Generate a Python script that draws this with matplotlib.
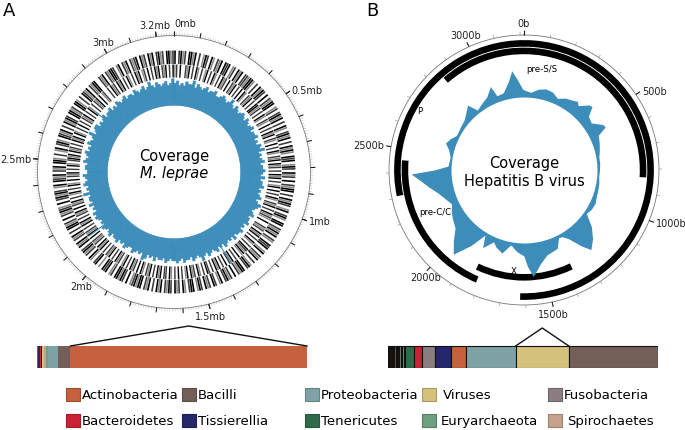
import numpy as np
import matplotlib
matplotlib.use("Agg")
import matplotlib.pyplot as plt
from matplotlib.patches import Rectangle

W, H = 685, 431

# ---------------- data ----------------
# A: M. leprae (genome ~3.268 Mb)
leprae_len = 3.268
# coverage level per 1.5 degree bin, 0-9
leprae_cov = ("78676877968767867786" "67876797687678768767" "86778676879676786778"
              "76867786767867987678" "67786768776867678676" "87678679767867786787"
              "76786776867689676786" "67867687768767867678" "78676867769676876786"
              "67768767867687679678" "86767867786768767867" "76876786797687678679")
leprae_spike_pos = [1.343, 2.115, 2.79]
leprae_spike_level = [16, 15, 11]
# gene tracks, 1 degree bins: 0 none, 1 light, 2 grey, 3 black
genes_plus = ("30231203313020132031" "02130323012031302213" "31020313203021330120"
              "23130203102313020313" "10323013203120302133" "02031320130231033021"
              "31302103230130213020" "13203312030213203102" "30213023103320130213"
              "02312031302031203313" "21030231330210323010" "32013021320313021302"
              "03312030213210302313" "20130321302130331020" "13023103213020313203"
              "31203310203213021330" "02130213320130213021" "23031203130231203312")
genes_minus = ("12030021302031020130" "20310203120302130203" "03102130203312020310"
               "21030203130210302031" "02130312020313020130" "30203102130203121030"
               "02120313020310203213" "10302031203020313020" "23020130213031020302"
               "01302203130203120130" "30213020310213020312" "02031302120303120203"
               "13020213030213020130" "20310302130203102313" "03120203130310203020"
               "21302031020213030120" "02031203130203102031" "30120302031302130203")
leprae_labels = [0, 0.5, 1, 1.5, 2, 2.5, 3, 3.2]

# B: Hepatitis B virus (3215 b)
hbv_len = 3215
hbv_pos = [0, 45, 89, 134, 179, 223, 268, 313, 339, 357, 402, 420, 447, 491, 536, 554,
           580, 625, 670, 714, 759, 804, 848, 893, 938, 982, 1027, 1072, 1116, 1161, 1206,
           1250, 1277, 1313, 1340, 1366, 1402, 1429, 1473, 1518, 1563, 1590, 1608, 1652,
           1697, 1741, 1786, 1813, 1858, 1884, 1920, 1965, 2009, 2054, 2099, 2143, 2188,
           2233, 2277, 2322, 2367, 2393, 2411, 2438, 2500, 2545, 2581, 2617, 2652, 2679,
           2724, 2768, 2813, 2849, 2876, 2929, 2974, 3019, 3036, 3081, 3126, 3152, 3179, 3206]
hbv_cov = [7, 5, 9, 11, 10, 6, 10, 12, 14, 11, 19, 20, 11, 9, 18, 19,
           9, 7, 5, 3, 3, 2.5, 2, 3, 3.5, 4, 5.5, 5, 3, 15, 24,
           31, 22, 9, 4, 3, 12, 13, 15, 22, 34, 23, 13, 9,
           3, 13, 9, 5, 15, 3, 19, 37, 27, 17, 14, 11, 7,
           11, 16, 24, 33, 40, 17, 3, 2, 5, 10, 7, 3, 3,
           4, 5, 9, 13, 3, 6, 9, 17, 6, 7, 17, 27, 17, 8]
hbv_genes = ["P", "pre-S/S", "pre-C/C", "X"]
hbv_gene_start = [2307, 2848, 1814, 1374]
hbv_gene_end = [1623, 835, 2452, 1838]
hbv_gene_track = [2, 1, 1, 0]
hbv_labels = [0, 500, 1000, 1500, 2000, 2500, 3000]

# legend / phyla
phyla = ["Actinobacteria", "Bacilli", "Proteobacteria", "Viruses", "Fusobacteria",
         "Bacteroidetes", "Tissierellia", "Tenericutes", "Euryarchaeota", "Spirochaetes"]
phylum_colors = {"Actinobacteria": "#c5613c", "Bacilli": "#735f58", "Proteobacteria": "#7fa2a6",
                 "Viruses": "#d3c17c", "Fusobacteria": "#8a7f80", "Bacteroidetes": "#cc2236",
                 "Tissierellia": "#25276c", "Tenericutes": "#2f6b4b", "Euryarchaeota": "#6fa07f",
                 "Spirochaetes": "#c4a28c", "Other": "#17120f"}

bar_a_taxa = ["Bacilli", "Tissierellia", "Bacteroidetes", "Other", "Viruses", "Spirochaetes",
              "Euryarchaeota", "Proteobacteria", "Bacilli", "Actinobacteria"]
bar_a_share = [1.2, 1.5, 1.3, 1.2, 1.7, 1.6, 2.0, 10.0, 12.7, 235.3]
bar_a_focus = 9

bar_b_taxa = ["Other", "Bacilli", "Proteobacteria", "Tissierellia", "Bacteroidetes", "Fusobacteria",
              "Spirochaetes", "Euryarchaeota", "Other", "Tenericutes", "Bacteroidetes", "Fusobacteria",
              "Tissierellia", "Actinobacteria", "Proteobacteria", "Viruses", "Bacilli"]
bar_b_share = [6, 1.7, 1, 1.3, 1.3, 1.3, 1.6, 1.7, 1.5, 8.5, 8.5, 12, 16, 15.5, 49.5, 53, 89]
bar_b_focus = 15

# ---------------- figure ----------------
fig = plt.figure(figsize=(W / 100, H / 100), dpi=100)
blue = "#3d8dbb"


def fx(x):
    return x / W


def fy(y):
    return 1 - y / H


bg = fig.add_axes([0, 0, 1, 1])
bg.set_xlim(0, W)
bg.set_ylim(H, 0)
bg.axis("off")


def polar_axes(cx, cy, half=150):
    ax = fig.add_axes([fx(cx - half), fy(cy + half), 2 * half / W, 2 * half / H],
                      projection="polar")
    ax.set_theta_zero_location("N")
    ax.set_theta_direction(-1)
    ax.set_ylim(0, half)
    ax.axis("off")
    return ax


def tick_label(ax, th, r, text, ha=None):
    s, c = np.sin(th), np.cos(th)
    if ha is None:
        ha = "left" if s > 0.7 else ("right" if s < -0.7 else "center")
    va = "bottom" if c > 0.7 else ("top" if c < -0.7 else "center")
    ax.text(th, r, text, ha=ha, va=va, fontsize=7, color="#222222")


full = np.linspace(0, 2 * np.pi, 500)

# ---- panel A ----
axA = polar_axes(174, 173)
RA = 136.5
axA.plot(full, np.full_like(full, RA), color="#777777", lw=0.6)
minor = np.arange(0, leprae_len, 0.01)
axA.vlines(2 * np.pi * minor / leprae_len, RA, RA + 2.5, color="#aaaaaa", lw=0.35)
major = np.arange(0, leprae_len, 0.1)
axA.vlines(2 * np.pi * major / leprae_len, RA, RA + 5, color="#222222", lw=0.8)
for v in leprae_labels:
    th = 2 * np.pi * v / leprae_len
    axA.vlines(th, RA, RA + 5, color="#222222", lw=0.8)
    tick_label(axA, th, RA + 7, f"{v:g}mb", ha="left" if v == 0 else None)

gene_col = {"1": "#8a8a8a", "2": "#3a3a3a", "3": "#000000"}
for track, (r0, r1) in [(genes_plus, (108, 121.5)), (genes_minus, (94.5, 107.5))]:
    n = len(track)
    w = 2 * np.pi / n
    for lev, col in gene_col.items():
        idx = np.array([i for i, ch in enumerate(track) if ch == lev])
        if len(idx):
            axA.bar((idx + 0.5) * w, r1 - r0, width=w * 0.8, bottom=r0, color=col, lw=0)

base_a = 66.7
lev = np.array([int(ch) for ch in leprae_cov])
n = len(lev)
w = 2 * np.pi / n
axA.bar((np.arange(n) + 0.5) * w, 73.5 + 2.2 * lev - base_a, width=w * 1.01, bottom=base_a,
        color=blue, edgecolor=blue, lw=0.4)
sp_th = 2 * np.pi * np.array(leprae_spike_pos) / leprae_len
axA.vlines(sp_th, base_a, 73.5 + 2.2 * np.array(leprae_spike_level), color=blue, lw=0.8)

bg.text(174, 157, "Coverage", ha="center", va="center", fontsize=10.5)
bg.text(174, 173.5, "M. leprae", ha="center", va="center", fontsize=10.5, style="italic")

# ---- panel B ----
axB = polar_axes(524, 171)
RB = 135
axB.plot(full, np.full_like(full, RB), color="#777777", lw=0.6)
axB.vlines(2 * np.pi * np.arange(0, hbv_len, 100) / hbv_len, RB, RB + 3, color="#999999", lw=0.5)
for v in hbv_labels:
    th = 2 * np.pi * v / hbv_len
    axB.vlines(th, RB, RB + 5, color="#222222", lw=0.8)
    tick_label(axB, th, RB + 7, f"{v}b")

track_r = {0: 104, 1: 115.8, 2: 123.3}
for name, s, e, t in zip(hbv_genes, hbv_gene_start, hbv_gene_end, hbv_gene_track):
    if e < s:
        e += hbv_len
    t0 = 2 * np.pi * s / hbv_len
    t1 = 2 * np.pi * e / hbv_len
    axB.bar((t0 + t1) / 2, 6.6, width=t1 - t0, bottom=track_r[t], color="black", lw=0)

gene_text = {"pre-S/S": (89, 103), "P": (2679, 120), "pre-C/C": (2185, 98), "X": (1658, 101)}
for name, (p, r) in gene_text.items():
    axB.text(2 * np.pi * p / hbv_len, r, name, ha="center", va="center", fontsize=6.2)

base_b = 73
th = 2 * np.pi * np.array(hbv_pos + [hbv_len]) / hbv_len
cv = np.array(hbv_cov + [hbv_cov[0]])
axB.fill_between(th, base_b, base_b + cv, color=blue, lw=0)

bg.text(524, 163.5, "Coverage", ha="center", va="center", fontsize=10.5)
bg.text(524, 181.5, "Hepatitis B virus", ha="center", va="center", fontsize=10.5)

# panel letters
bg.text(3, 11, "A", fontsize=13, va="center", ha="left")
bg.text(366, 11, "B", fontsize=13, va="center", ha="left")


# ---- composition bars ----
def comp_bar(x0, x1, taxa, share, focus, apex_px, edge):
    top, bottom = 327, 369
    ax = fig.add_axes([fx(x0), fy(bottom), (x1 - x0) / W, (bottom - top) / H])
    hbar = 22
    total = sum(share)
    left = np.concatenate([[0], np.cumsum(share)[:-1]])
    ax.barh(0.5, share, left=left, height=1, color=[phylum_colors[t] for t in taxa],
            edgecolor="#111111" if edge else "none", lw=0.8 if edge else 0)
    ax.set_xlim(0, total)
    ax.set_ylim(0, (bottom - top) / hbar)
    ax.axis("off")
    l, r = left[focus], left[focus] + share[focus]
    ax.plot([l, (l + r) / 2, r], [1, (bottom - apex_px) / hbar, 1], color="#111111", lw=1,
            clip_on=False)


comp_bar(37, 307, bar_a_taxa, bar_a_share, bar_a_focus, 327, False)
comp_bar(388, 658, bar_b_taxa, bar_b_share, bar_b_focus, 329, True)

# ---- legend ----
col_x = [66, 182, 305, 422, 548]
row_y = [396, 421.5]
text_dx = [16, 16, 16, 21, 16, 16, 16, 16, 19, 19]
for i, name in enumerate(phyla):
    x = col_x[i % 5]
    y = row_y[i // 5]
    c = np.array(matplotlib.colors.to_rgb(phylum_colors[name]))
    bg.add_patch(Rectangle((x, y - 6.5), 14, 13, facecolor=c, edgecolor=c * 0.8, lw=0.8))
    bg.text(x + text_dx[i], y, name, fontsize=9.5, va="center", ha="left")

fig.savefig("out.png", dpi=100)
